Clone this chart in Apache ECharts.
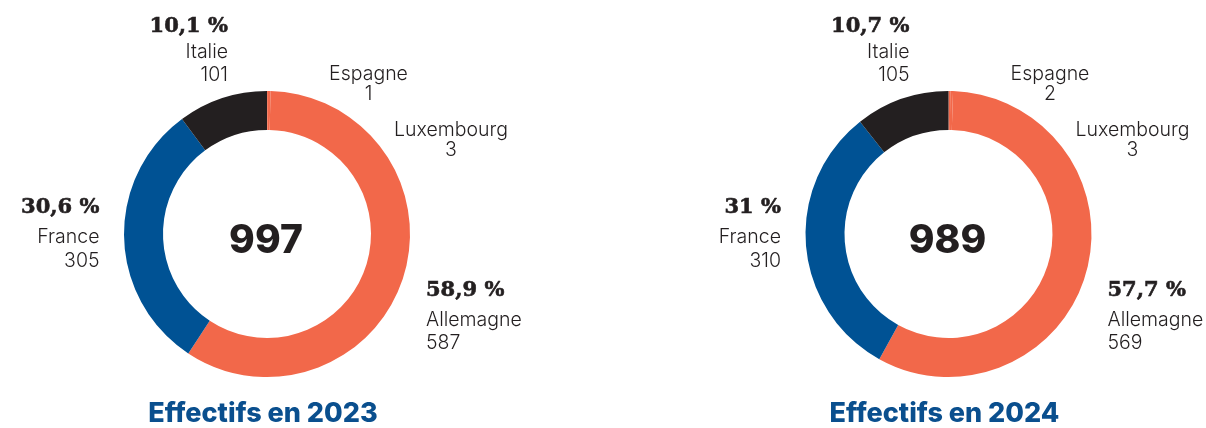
<!DOCTYPE html>
<html>
<head>
<meta charset="utf-8">
<style>
  html, body { margin: 0; padding: 0; background: #ffffff; }
  #chart { width: 1206px; height: 428px; }
</style>
<script src="https://cdn.jsdelivr.net/npm/echarts@6/dist/echarts.min.js"></script>
</head>
<body>
<div id="chart"></div>
<script>
// Staff headcount by country, one donut per year (clockwise from 12 o'clock)
const years = ['2023', '2024'];
const countries = ['Espagne', 'Luxembourg', 'Allemagne', 'France', 'Italie'];
const staff2023 = [1, 3, 587, 305, 101];
const staff2024 = [2, 3, 569, 310, 105];
const share2023 = ['', '', '58,9 %', '30,6 %', '10,1 %'];
const share2024 = ['', '', '57,7 %', '31 %', '10,7 %'];
const titlePrefix = 'Effectifs en ';

const staffByYear = [staff2023, staff2024];
const shareByYear = [share2023, share2024];

const ORANGE = '#f2684a';
const BLUE = '#005294';
const DARK = '#231f20';
const countryColor = {
  Espagne: ORANGE, Luxembourg: ORANGE, Allemagne: ORANGE, France: BLUE, Italie: DARK
};

// Donut geometry
const centersX = [267, 948.5];
const centerY = 234;
const radii = [104, 143];

// Label placement around each donut (dx from donut centre, first line centre y, line spacing)
const labelPlacement = {
  Italie:     { align: 'right',  dx: -39,    firstY: 27,  pctLine: 28,   line: 23 },
  Espagne:    { align: 'center', dx: 101.5,  firstY: 74,  pctLine: 0,    line: 20 },
  Luxembourg: { align: 'center', dx: 184,    firstY: 130, pctLine: 0,    line: 20 },
  France:     { align: 'right',  dx: -167.5, firstY: 208, pctLine: 34,   line: 24 },
  Allemagne:  { align: 'left',   dx: 159,    firstY: 291, pctLine: 34.5, line: 23.5 }
};

const LABEL_FONT = 'Inter, "Noto Sans", sans-serif';
const PCT_FONT = '"DejaVu Serif", "Liberation Serif", serif';

function itemLabel(name) {
  const p = labelPlacement[name];
  const textStyle = {
    fontFamily: LABEL_FONT, fontWeight: 300, fontSize: 19.5, color: DARK,
    lineHeight: p.line, align: p.align
  };
  return {
    align: p.align,
    rich: {
      p: { fontFamily: PCT_FONT, fontWeight: 'bold', fontSize: 21, color: DARK,
           textBorderColor: DARK, textBorderWidth: 0.6,
           lineHeight: p.pctLine || p.line, align: p.align },
      n: textStyle,
      v: textStyle
    }
  };
}

const series = years.map((year, s) => ({
  type: 'pie',
  name: year,
  center: [centersX[s], centerY],
  radius: radii,
  startAngle: 90,
  clockwise: true,
  silent: true,
  avoidLabelOverlap: false,
  emphasis: { disabled: true },
  itemStyle: { borderWidth: 0 },
  labelLine: { show: false },
  label: {
    show: true,
    position: 'outside',
    formatter: (params) => {
      const pct = shareByYear[s][params.dataIndex];
      return (pct ? '{p|' + pct + '}\n' : '') +
        '{n|' + params.name + '}\n{v|' + params.value + '}';
    }
  },
  labelLayout: (params) => {
    const name = countries[params.dataIndex];
    const p = labelPlacement[name];
    const hasPct = !!shareByYear[params.seriesIndex][params.dataIndex];
    const firstH = hasPct ? p.pctLine : p.line;
    return {
      x: centersX[params.seriesIndex] + p.dx,
      y: p.firstY - firstH / 2,
      align: p.align,
      verticalAlign: 'top'
    };
  },
  data: countries.map((c, i) => ({
    name: c,
    value: staffByYear[s][i],
    itemStyle: { color: countryColor[c] },
    label: itemLabel(c)
  }))
}));

// Totals in the middle of each donut and year captions below
const graphics = [];
years.forEach((year, s) => {
  const total = staffByYear[s].reduce((a, b) => a + b, 0);
  graphics.push({
    type: 'text',
    x: centersX[s] - 1,
    y: 241,
    silent: true,
    style: {
      text: String(total),
      fontFamily: 'Inter, "Noto Sans", sans-serif',
      fontWeight: 800,
      fontSize: 39,
      fill: DARK,
      align: 'center',
      verticalAlign: 'middle'
    }
  });
  graphics.push({
    type: 'text',
    x: centersX[s] - 4,
    y: 414,
    silent: true,
    style: {
      text: titlePrefix + year,
      fontFamily: 'Inter, "Noto Sans", sans-serif',
      fontWeight: 800,
      fontSize: 27,
      fill: '#0a4f8e',
      align: 'center',
      verticalAlign: 'middle'
    }
  });
});

const chart = echarts.init(document.getElementById('chart'), null, { renderer: 'canvas' });
chart.setOption({
  animation: false,
  backgroundColor: '#ffffff',
  series: series,
  graphic: graphics
});
</script>
</body>
</html>
